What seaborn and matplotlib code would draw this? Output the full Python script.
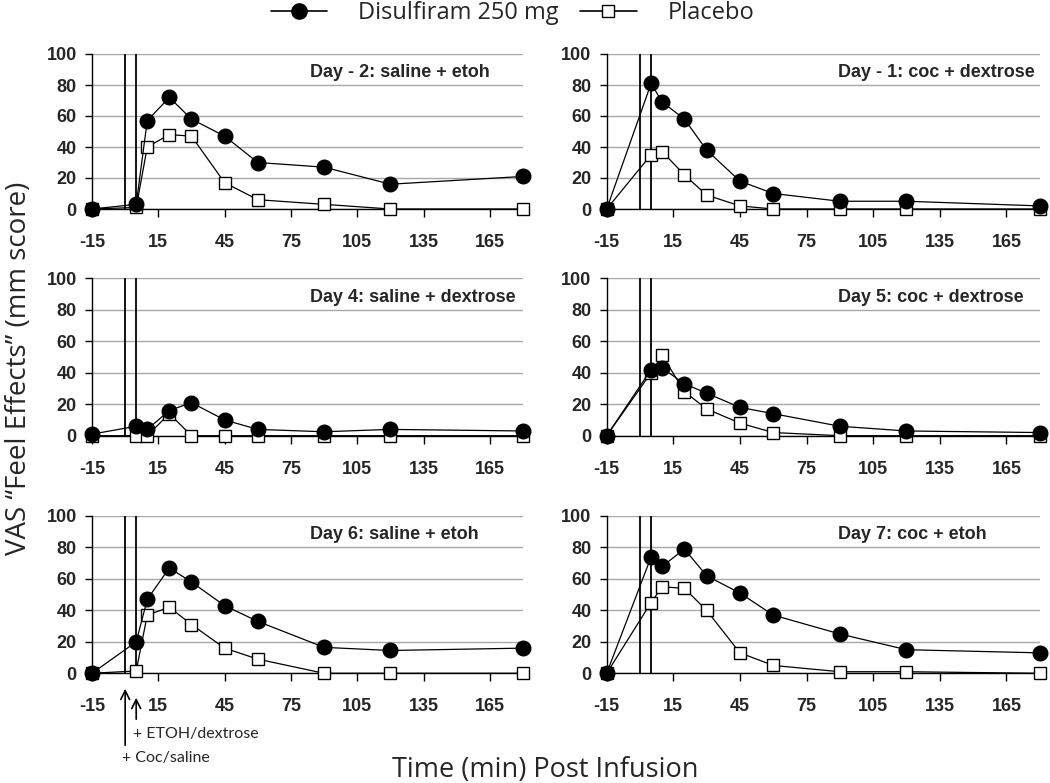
import seaborn as sns
import matplotlib.pyplot as plt
import pandas as pd
from matplotlib.lines import Line2D

sns.set_theme(context='paper', style='ticks')
plt.rcParams['font.family'] = ['Open Sans', 'DejaVu Sans']

times = [-15, 5, 10, 20, 30, 45, 60, 90, 120, 180]
groups = ['Disulfiram 250 mg', 'Placebo']
panel_titles = ['Day - 2: saline + etoh', 'Day - 1: coc + dextrose',
                'Day 4: saline + dextrose', 'Day 5: coc + dextrose',
                'Day 6: saline + etoh', 'Day 7: coc + etoh']

disulfiram = [
    [0, 3, 57, 72, 58, 47, 30, 27, 16, 21],
    [0, 81, 69, 58, 38, 18, 10, 5, 5, 2],
    [1, 6, 4, 16, 21, 10, 4, 2.5, 4, 3],
    [0, 42, 43, 33, 27, 18, 14, 6, 3, 2],
    [0, 20, 47, 67, 58, 43, 33, 16.5, 14.5, 16],
    [0, 74, 68, 79, 62, 51, 37, 25, 15, 13],
]
placebo = [
    [0, 1, 40, 48, 47, 17, 6, 3, 0, 0],
    [0, 35, 37, 22, 9, 2, 0, 0, 0, 0],
    [0, 0, 0, 14, 0, 0, 0, 0, 0, 0],
    [0, 40, 51, 28, 17, 8, 2, 0, 0, 0],
    [0, 1.5, 37, 42, 31, 16, 9, 0, 0, 0],
    [0, 45, 55, 54, 40, 13, 5, 1, 1, 0],
]
infusion_times = [0, 5]
xticks = [-15, 15, 45, 75, 105, 135, 165]
yticks = [0, 20, 40, 60, 80, 100]

rows = []
for i, title in enumerate(panel_titles):
    for t, d, p in zip(times, disulfiram[i], placebo[i]):
        rows.append({'panel': title, 'time': t, 'group': groups[0], 'vas': d})
        rows.append({'panel': title, 'time': t, 'group': groups[1], 'vas': p})
df = pd.DataFrame(rows)

W, H = 1050, 783
fig, axes = plt.subplots(3, 2, figsize=(10.5, 7.83), dpi=100)
col_x = [(92, 431), (606.7, 433)]
row_y = [(54, 209), (278.3, 435.7), (516, 673.3)]

tick_font = {'family': 'Liberation Sans', 'weight': 'bold', 'size': 13}

for i, title in enumerate(panel_titles):
    r, c = divmod(i, 2)
    ax = axes[r, c]
    x0, w = col_x[c]
    top, bot = row_y[r]
    ax.set_position([x0 / W, 1 - bot / H, w / W, (bot - top) / H])
    sub = df[df['panel'] == title]

    for t in infusion_times:
        ax.axvline(t, color='black', lw=1.3, zorder=1)

    sns.lineplot(data=sub[sub['group'] == 'Placebo'], x='time', y='vas',
                 color='black', marker='s', ms=9, mfc='white', mec='black',
                 mew=1.0, lw=0.9, estimator=None, ax=ax, clip_on=False,
                 label='Placebo', legend=False, zorder=3)
    sns.lineplot(data=sub[sub['group'] == 'Disulfiram 250 mg'], x='time', y='vas',
                 color='black', marker='o', ms=10.5, mfc='black', mec='black',
                 mew=1.0, lw=0.9, estimator=None, ax=ax, clip_on=False,
                 label='Disulfiram 250 mg', legend=False, zorder=4)

    ax.set_xlim(-15, 180)
    ax.set_ylim(0, 100)
    ax.set_xticks(xticks)
    ax.set_yticks(yticks)
    ax.set_xticklabels([str(x) for x in xticks], fontdict=tick_font)
    ax.set_yticklabels([str(y) for y in yticks], fontdict=tick_font)
    ax.tick_params(axis='x', direction='out', length=6, width=1, pad=12, color='black')
    ax.tick_params(axis='y', direction='out', length=5, width=1, pad=6, color='black')
    ax.yaxis.grid(True, color='#a8a8a8', lw=1.0)
    ax.set_axisbelow(True)
    sns.despine(ax=ax)
    for s in ['left', 'bottom']:
        ax.spines[s].set_color('black')
        ax.spines[s].set_linewidth(1.0)
    ax.set_xlabel('')
    ax.set_ylabel('')
    tx = 0.506 if c == 0 else 0.535
    ax.text(tx, 0.88, title, transform=ax.transAxes, ha='left', va='center',
            fontfamily='Liberation Sans', fontweight='bold', fontsize=13)

handles = [
    Line2D([], [], color='black', marker='o', ms=11, mfc='black', lw=1.2),
    Line2D([], [], color='black', marker='s', ms=9, mfc='white', lw=1.2),
]
fig.legend(handles, groups, loc='center', bbox_to_anchor=(0.488, 1 - 13 / H),
           ncol=2, frameon=False, fontsize=17, handlelength=2.4,
           handletextpad=1.3, columnspacing=0.9)

fig.text(19 / W, 1 - 368 / H, 'VAS \u201cFeel Effects\u201d (mm score)', rotation=90,
         ha='center', va='center', fontsize=20)
fig.text(545 / W, 1 - 776.7 / H, 'Time (min) Post Infusion', ha='center',
         va='baseline', fontsize=19.5)

ax = axes[2, 0]
arrow = dict(arrowstyle='->', color='black', lw=1.2, mutation_scale=16)
ax.annotate('', xy=(0, 1 - 686 / H), xytext=(0, 1 - 748 / H),
            xycoords=('data', 'figure fraction'), textcoords=('data', 'figure fraction'),
            arrowprops=arrow, annotation_clip=False)
ax.annotate('', xy=(5, 1 - 695 / H), xytext=(5, 1 - 722 / H),
            xycoords=('data', 'figure fraction'), textcoords=('data', 'figure fraction'),
            arrowprops=arrow, annotation_clip=False)
fig.text(133 / W, 1 - 738 / H, '+ ETOH/dextrose', ha='left', va='baseline',
         fontsize=11.5, family='Lato')
fig.text(121.7 / W, 1 - 761.7 / H, '+ Coc/saline', ha='left', va='baseline',
         fontsize=11.5, family='Lato')

fig.savefig('out.png', dpi=100)
